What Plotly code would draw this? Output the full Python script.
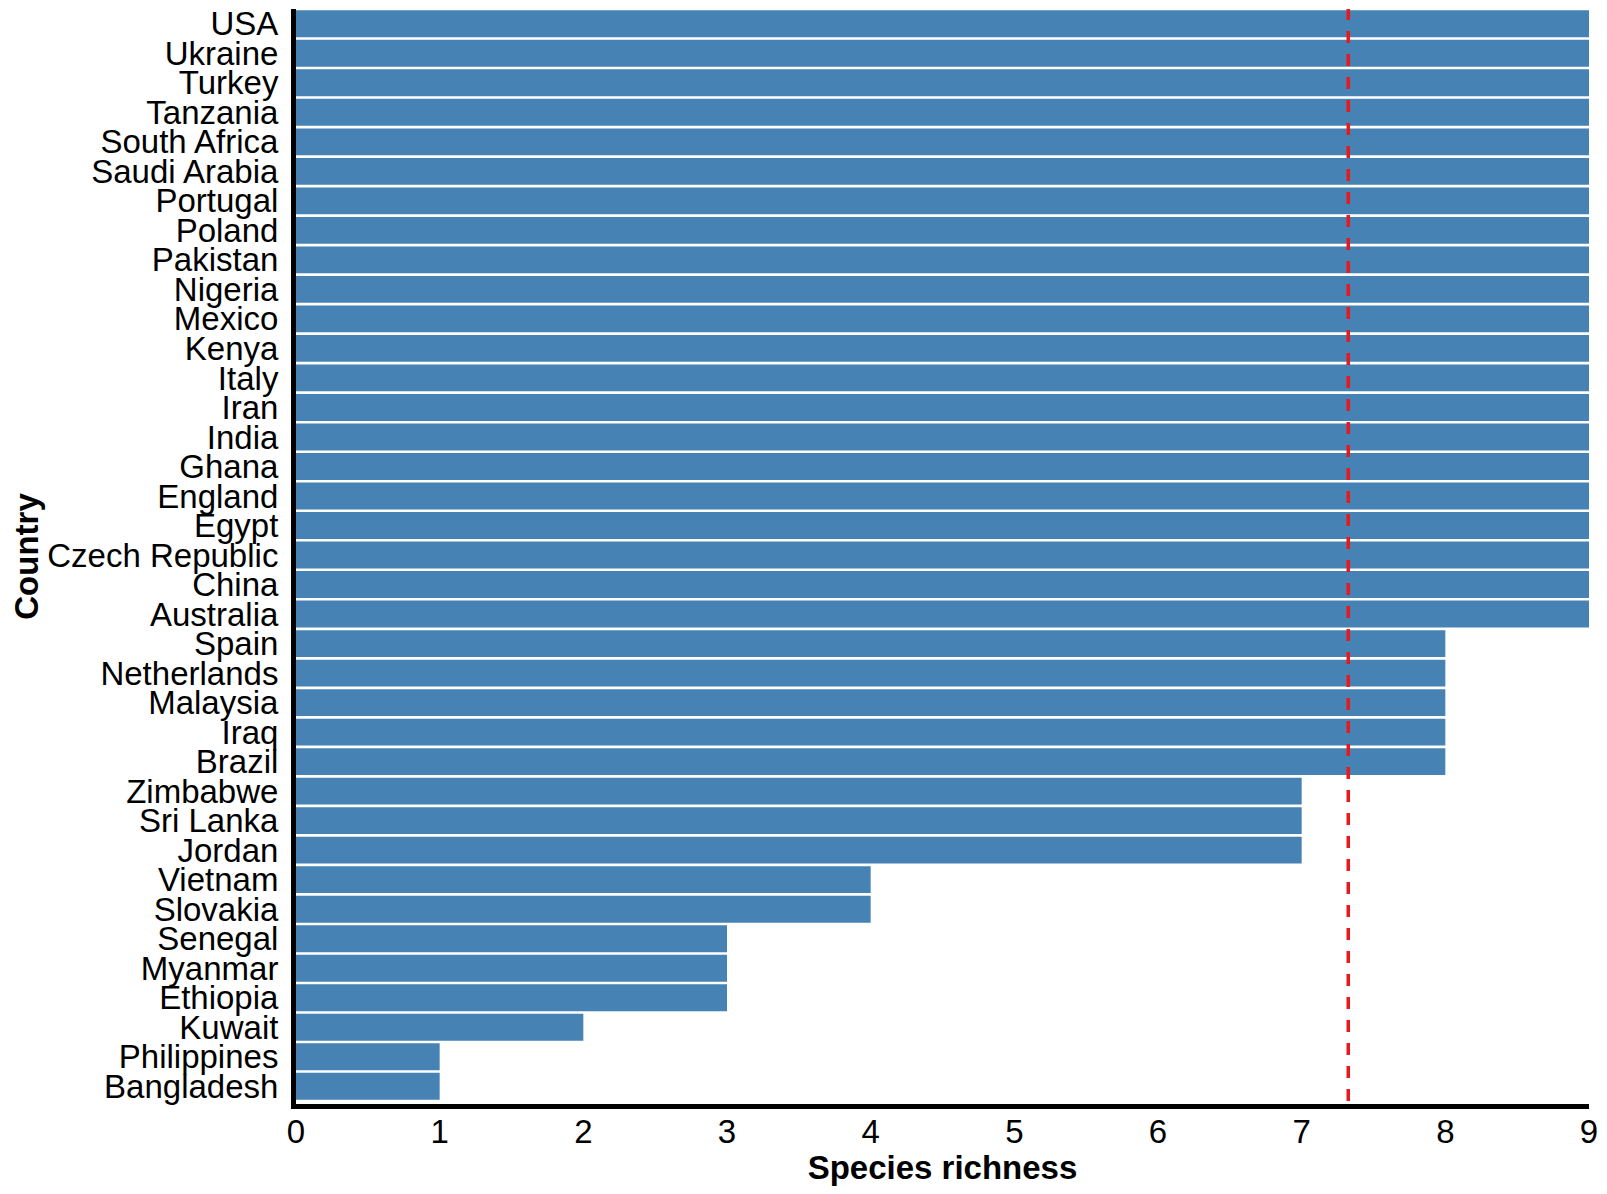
import numpy as np
import plotly.graph_objects as go

# countries listed bottom -> top, as they appear on the chart
countries = [
    "Bangladesh", "Philippines", "Kuwait", "Ethiopia", "Myanmar", "Senegal",
    "Slovakia", "Vietnam", "Jordan", "Sri Lanka", "Zimbabwe", "Brazil", "Iraq",
    "Malaysia", "Netherlands", "Spain", "Australia", "China", "Czech Republic",
    "Egypt", "England", "Ghana", "India", "Iran", "Italy", "Kenya", "Mexico",
    "Nigeria", "Pakistan", "Poland", "Portugal", "Saudi Arabia", "South Africa",
    "Tanzania", "Turkey", "Ukraine", "USA",
]
richness = [
    1, 1, 2, 3, 3, 3,
    4, 4, 7, 7, 7, 8, 8,
    8, 8, 8, 9, 9, 9,
    9, 9, 9, 9, 9, 9, 9, 9,
    9, 9, 9, 9, 9, 9,
    9, 9, 9, 9,
]
x_ticks = list(range(10))

mean_richness = float(np.mean(richness))

fig = go.Figure()
fig.add_trace(go.Bar(
    x=richness, y=countries, orientation="h",
    marker=dict(color="#4682B4", line=dict(width=0)),
))

# mean line
fig.add_shape(
    type="line", xref="x", yref="y",
    x0=mean_richness, x1=mean_richness, y0=-0.5, y1=len(countries) - 0.5,
    line=dict(color="#E8191C", width=3.5, dash="12px,11px"),
)

# figure kept a little under the window size so the page gets no scrollbars
font = "Liberation Sans, Arial, sans-serif"
fig.update_layout(
    width=1591, height=1178,
    margin=dict(l=288, r=10, t=1, b=82),
    plot_bgcolor="white", paper_bgcolor="white",
    bargap=0.09, showlegend=False,
    font=dict(family=font, size=33, color="black"),
)
fig.update_xaxes(
    range=[0, 9], tickvals=x_ticks, showgrid=False, zeroline=False,
    showline=True, linecolor="black", linewidth=5, automargin=False,
    ticks="", ticklabelstandoff=-6,
    tickfont=dict(size=33, color="black"),
    title=dict(text="<b>Species richness</b>", font=dict(size=33), standoff=8),
)
fig.update_yaxes(
    type="category", categoryorder="array", categoryarray=countries,
    tickmode="array", tickvals=countries, ticktext=countries,
    range=[-0.6, len(countries) - 0.5], showgrid=False, zeroline=False,
    showline=True, linecolor="black", linewidth=5, automargin=False,
    ticks="", ticklabelstandoff=6,
    tickfont=dict(size=33, color="black"),
    title=dict(text="<b>Country</b>", font=dict(size=33), standoff=32),
)

fig.write_html("out.html")
